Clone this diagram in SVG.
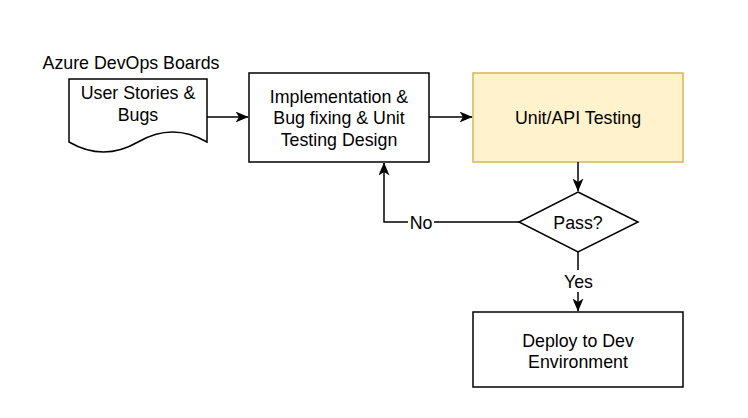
<svg xmlns="http://www.w3.org/2000/svg" width="748" height="418" viewBox="0 0 748 418">
<defs>
<marker id="arr" viewBox="0 0 13 11" refX="12.5" refY="5.5" markerWidth="13" markerHeight="11" markerUnits="userSpaceOnUse" orient="auto">
<path d="M0,0 L13,5.5 L0,11 L3.5,5.5 Z" fill="#000"/>
</marker>
<style>
.box{fill:#fff;stroke:#000;stroke-width:1.5}
.yel{fill:#fff2cc;stroke:#d6b656;stroke-width:1.5}
.t{font-family:"Liberation Sans",Arial,Helvetica,sans-serif;font-size:17.8px;fill:#000;text-anchor:middle}
.c{fill:none;stroke:#000;stroke-width:1.5}
.lbl{fill:#fff}
</style>
</defs>
<rect width="748" height="418" fill="#fff"/>
<g id="title">
<text class="t" x="131" y="69">Azure DevOps Boards</text>
</g>
<g id="user-stories">
<path class="box" d="M69,79 H207 V142 Q172.5,122 138,142 Q103.5,162 69,142 Z"/>
<text class="t" x="138" y="98.5">User Stories &amp;</text>
<text class="t" x="138" y="120.5">Bugs</text>
</g>
<g id="implementation">
<rect class="box" x="249" y="73" width="180" height="89"/>
<text class="t" x="339" y="102.5">Implementation &amp;</text>
<text class="t" x="339" y="124">Bug fixing &amp; Unit</text>
<text class="t" x="339" y="145.5">Testing Design</text>
</g>
<g id="unit-testing">
<rect class="yel" x="473" y="73" width="210" height="89"/>
<text class="t" x="578" y="123.5">Unit/API Testing</text>
</g>
<g id="pass">
<path class="box" d="M578,192 L638,222 L578,252 L519,222 Z"/>
<text class="t" x="578" y="228.5">Pass?</text>
</g>
<g id="deploy">
<rect class="box" x="473" y="312" width="210" height="75"/>
<text class="t" x="578" y="346.5">Deploy to Dev</text>
<text class="t" x="578" y="367.5">Environment</text>
</g>
<g id="connectors">
<path class="c" d="M207,117 H248" marker-end="url(#arr)"/>
<path class="c" d="M429,117 H472" marker-end="url(#arr)"/>
<path class="c" d="M578,162 V191" marker-end="url(#arr)"/>
<path class="c" d="M519,222 H384 V163" marker-end="url(#arr)"/>
<path class="c" d="M578,252 V311" marker-end="url(#arr)"/>
<rect class="lbl" x="408" y="211" width="26" height="22"/>
<text class="t" x="421" y="228.5">No</text>
<rect class="lbl" x="563" y="270" width="31" height="22"/>
<text class="t" x="578.5" y="287.5">Yes</text>
</g>
</svg>
